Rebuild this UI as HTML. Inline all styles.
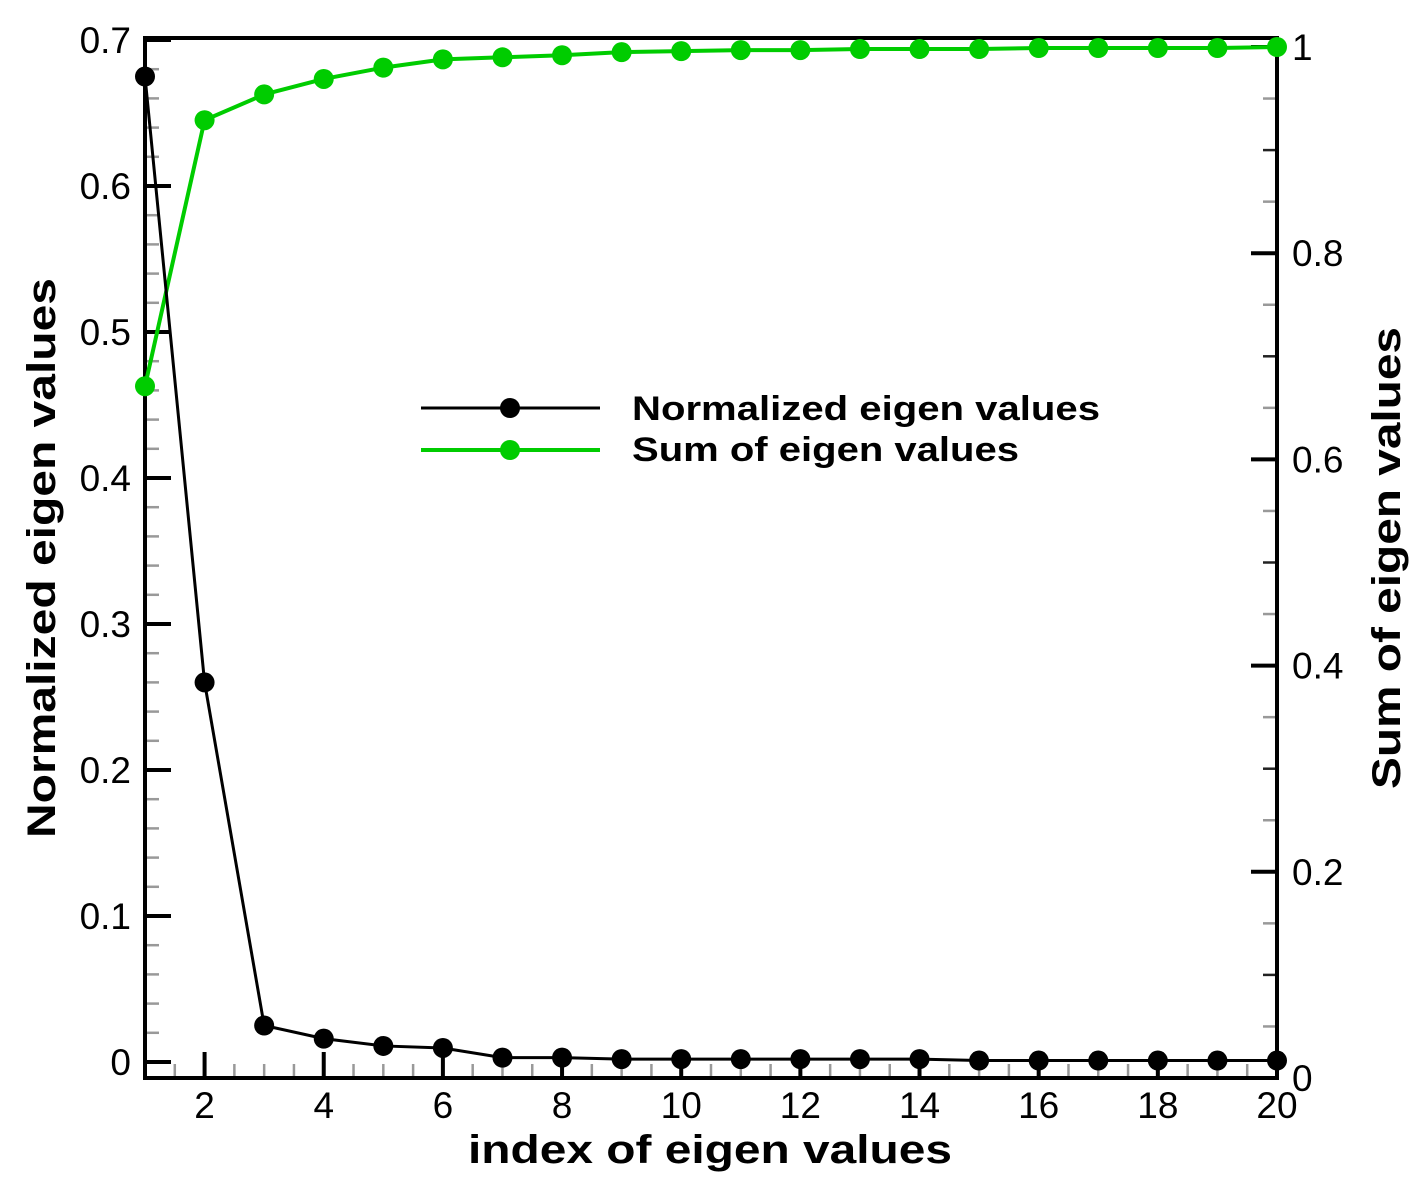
<!DOCTYPE html>
<html><head><meta charset="utf-8"><style>
html,body{margin:0;padding:0;background:#fff;}
svg{display:block;font-family:"Liberation Sans",Arial,sans-serif;}
</style></head><body>
<svg id="chart" width="1428" height="1192" viewBox="0 0 1428 1192" xmlns="http://www.w3.org/2000/svg"></svg>
<script>
const indices = [1,2,3,4,5,6,7,8,9,10,11,12,13,14,15,16,17,18,19,20];
const normalizedValues = [0.675,0.26,0.025,0.016,0.011,0.0096,0.003,0.003,0.002,0.002,0.002,0.002,0.002,0.002,0.001,0.001,0.001,0.001,0.001,0.001];
const sumValues = [0.671,0.929,0.954,0.969,0.980,0.988,0.990,0.992,0.995,0.996,0.997,0.997,0.998,0.998,0.998,0.999,0.999,0.999,0.999,1.0];
const xTickLabels = [2,4,6,8,10,12,14,16,18,20];
const leftTickLabels = [0,0.1,0.2,0.3,0.4,0.5,0.6,0.7];
const rightTickLabels = [0.2,0.4,0.6,0.8,1];

const L=145,R=1277,T=38,B=1078;
const NS="http://www.w3.org/2000/svg";
const svg=document.getElementById('chart');
const xS=v=>L+(v-1)*(R-L)/19;
const yL=v=>1062-v*1460;
const yR=v=>B-v*1031;
function mk(tag,attrs,parent){const e=document.createElementNS(NS,tag);for(const k in attrs)e.setAttribute(k,attrs[k]);(parent||svg).appendChild(e);return e;}

const ticks=mk('g',{});


for(let v=1;v<=20.001;v+=0.5){
  const maj=Math.abs(v%2)<1e-6;
  mk('line',{x1:xS(v),x2:xS(v),y1:B,y2:B-(maj?26:14),stroke:maj?'#000':'#999','stroke-width':maj?4:2.5},ticks);
}
for(let i=0;i<=35;i++){
  const v=i*0.02; const maj=i%5===0;
  mk('line',{x1:L,x2:L+(maj?26:14),y1:yL(v),y2:yL(v),stroke:maj?'#000':'#999','stroke-width':maj?4:2.5},ticks);
}
for(let i=1;i<=20;i++){
  const v=i*0.05; const maj=i%4===0;
  mk('line',{x1:R,x2:R-(maj?26:14),y1:yR(v),y2:yR(v),stroke:maj?'#000':(i%2===0?'#222':'#999'),'stroke-width':maj?4:2.5},ticks);
}
const frame=mk('rect',{x:L,y:T,width:R-L,height:B-T,fill:'none',stroke:'#000','stroke-width':4});



xTickLabels.forEach(v=>{
  const t=mk('text',{x:xS(v),y:1118,'font-size':37,'text-anchor':'middle',fill:'#000'});t.textContent=v;
  
  
});
leftTickLabels.forEach(v=>{
  const t=mk('text',{x:131,y:yL(v)+13,'font-size':37,'text-anchor':'end',fill:'#000'});t.textContent=v;
  
  
});
{const t=mk('text',{x:1292,y:1091,'font-size':37,fill:'#000'});t.textContent='0';

}
rightTickLabels.forEach(v=>{
  const t=mk('text',{x:1292,y:yR(v)+13,'font-size':37,fill:'#000'});t.textContent=v;
  
  
});

{const t=mk('text',{x:710,y:1163,'font-size':40,'font-weight':'bold','text-anchor':'middle',textLength:484,lengthAdjust:'spacingAndGlyphs'});t.textContent='index of eigen values';
}
{const t=mk('text',{x:0,y:0,'font-size':40,'font-weight':'bold','text-anchor':'middle',textLength:560,lengthAdjust:'spacingAndGlyphs',transform:'translate(55,558) rotate(-90)'});t.textContent='Normalized eigen values';
}
{const t=mk('text',{x:0,y:0,'font-size':40,'font-weight':'bold','text-anchor':'middle',textLength:462,lengthAdjust:'spacingAndGlyphs',transform:'translate(1400,558) rotate(-90)'});t.textContent='Sum of eigen values';
}

const green='#00cc00';
const gLine=mk('polyline',{points:indices.map((x,i)=>xS(x)+','+yR(sumValues[i])).join(' '),fill:'none',stroke:green,'stroke-width':4});


indices.forEach((x,i)=>{
  const c=mk('circle',{cx:xS(x),cy:yR(sumValues[i]),r:10,fill:green});
  
  
});
const bLine=mk('polyline',{points:indices.map((x,i)=>xS(x)+','+yL(normalizedValues[i])).join(' '),fill:'none',stroke:'#000','stroke-width':3});


indices.forEach((x,i)=>{
  const c=mk('circle',{cx:xS(x),cy:yL(normalizedValues[i]),r:10,fill:'#000'});
  
  
});

const lg=mk('g',{});


mk('line',{x1:421,x2:600,y1:408,y2:408,stroke:'#000','stroke-width':3},lg);
mk('circle',{cx:510,cy:408,r:10,fill:'#000'},lg);
mk('line',{x1:421,x2:600,y1:450,y2:450,stroke:green,'stroke-width':4},lg);
mk('circle',{cx:510,cy:450,r:10,fill:green},lg);
{const t=mk('text',{x:632,y:420,'font-size':34,'font-weight':'bold',textLength:468,lengthAdjust:'spacingAndGlyphs'},lg);t.textContent='Normalized eigen values';
}
{const t=mk('text',{x:632,y:461,'font-size':34,'font-weight':'bold',textLength:387,lengthAdjust:'spacingAndGlyphs'},lg);t.textContent='Sum of eigen values';
}
</script>
</body></html>
